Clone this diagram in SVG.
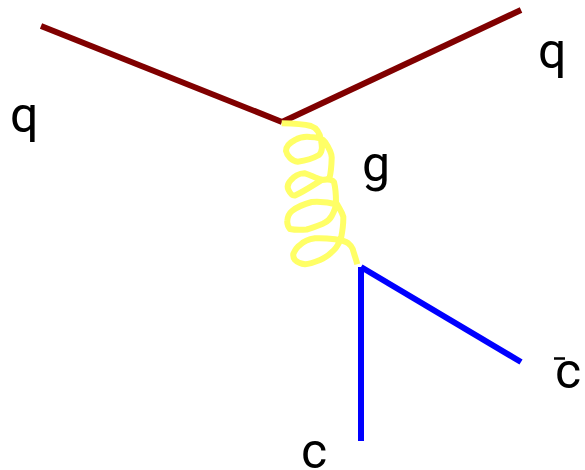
<svg xmlns="http://www.w3.org/2000/svg" width="585" height="470" viewBox="0 0 585 470">
<style>
.f{fill:none;stroke-width:6}
.q{stroke:#800000}
.c{stroke:#0000ff}
.g{stroke:#ffff66;stroke-width:6;fill:none;stroke-linejoin:round}
text{font-family:Roboto,"Liberation Sans",Arial,sans-serif;font-size:50px;fill:#000}
</style>
<g id="connectors">
<path id="quark-in" class="f q" d="M41 26L282 122"/>
<path id="quark-out" class="f q" d="M282 122L521 10"/>
<path id="gluon" class="g" d="M281.700 123.300C292 123.500 303 124 311 126C317 128 320 134 321 140C322 146 323 151 319 155C312 159 303 161 297.700 161.700C292 161 287 156 286 151C286 147 289 143 295 140C300 137 305 136.500 310 137C318 137 323 139 325 142C329 148 332 153 331.700 158C331.500 165 331 172 329.500 178C322 183 314 176 305 173.300C299 173 293.500 177 291 180C288 183 287 187 288.500 190C290 193 292.500 196 295 195.500C303 192 312 186 321.700 180C327 179 332 179.500 334 182C335.500 188 336 195 336 202C336 208 334 212 331.700 216C329 221 326 222 323.300 223.500C317 226 312 228 306.700 229.500C301 230 295 230 290 229C287.500 226 287 224 287.300 221C287.500 217 289.500 213 292 211C297 207 304 204 311.700 202C320 201.500 330 202.500 337.300 204.500C339 208 342 212 343.300 216.700C343.500 224 342.500 231 341 238.300C339 243 337 247 334 250C330 254 325 258 320 260C315 262 310 264 305 264.300C301 264 297 262 295 260C293.500 258 293 256 293.300 254C295 250 297 247 300 245C304 241 310 239 315 238.300C322 238 329 238.500 335 239.300C340 240 345 241 348.300 243.300C350.500 245 352 247 352.700 249C354 254 356 259 357.300 264.300"/>
<path id="charm" class="f c" d="M361 441L361 267"/>
<path id="anticharm" class="f c" d="M361 267L521 362"/>
<path id="bar" d="M554 358.500H565" stroke="#000" stroke-width="2.500" fill="none"/>
</g>
<g id="label-q-left"><text x="10" y="132">q</text></g>
<g id="label-q-right"><text x="538" y="68">q</text></g>
<g id="label-g"><text x="362" y="181">g</text></g>
<g id="label-cbar"><text x="555" y="388">c</text></g>
<g id="label-c"><text x="301" y="468">c</text></g>
</svg>
